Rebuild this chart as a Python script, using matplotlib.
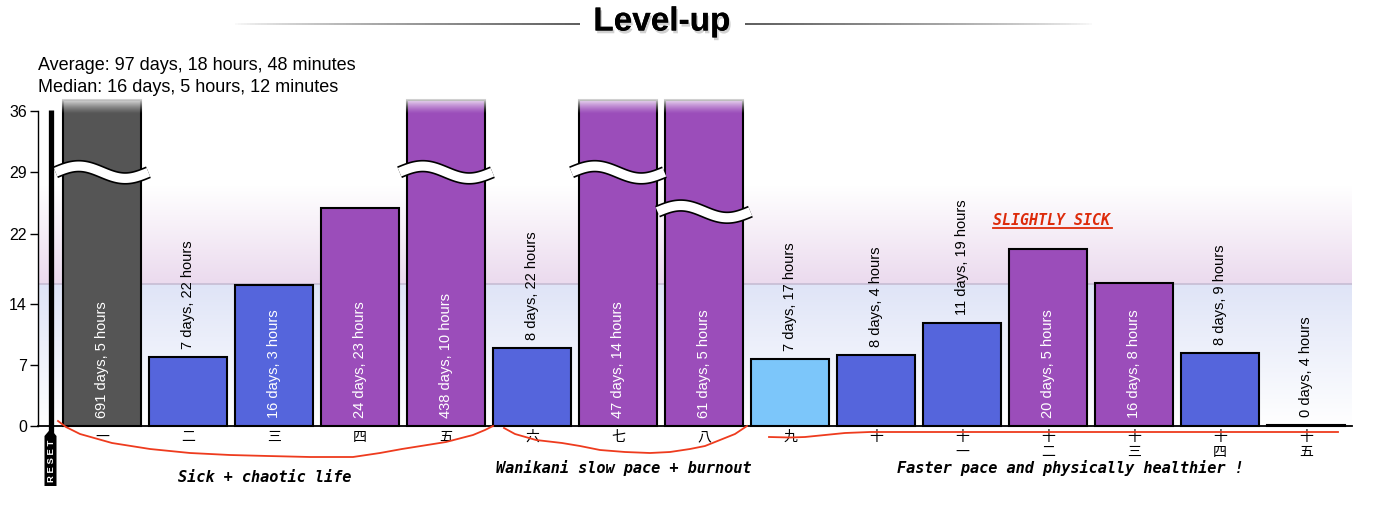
import numpy as np
import matplotlib.pyplot as plt
import matplotlib.patheffects as pe
from matplotlib.lines import Line2D
from matplotlib.patches import Polygon
from matplotlib.collections import LineCollection

plt.rcParams['font.family'] = ['Liberation Sans', 'Noto Sans CJK JP', 'DejaVu Sans']

# level-up durations
levels = ['一', '二', '三', '四', '五', '六', '七', '八', '九', '十',
          '十\n一', '十\n二', '十\n三', '十\n四', '十\n五']
days = [691, 7, 16, 24, 438, 8, 47, 61, 7, 8, 11, 20, 16, 8, 0]
hours = [5, 22, 3, 23, 10, 22, 14, 5, 17, 4, 19, 5, 8, 9, 4]
bar_colors = ['#555555', '#5565dc', '#5565dc', '#9b4dba', '#9b4dba',
              '#5565dc', '#9b4dba', '#9b4dba', '#7cc6fa', '#5565dc',
              '#5565dc', '#9b4dba', '#9b4dba', '#5565dc', '#5565dc']
break_at = {0: 29, 4: 29, 6: 29, 7: 24.5}
y_ticks = [0, 7, 14, 22, 29, 36]

average_text = 'Average: 97 days, 18 hours, 48 minutes'
median_text = 'Median: 16 days, 5 hours, 12 minutes'
median_days = 16 + 5 / 24 + 12 / 1440

phases = ['Sick + chaotic life', 'Wanikani slow pace + burnout',
          'Faster pace and physically healthier !']

W, H = 1380, 512


def fx(px):
    return px / W


def fy(py):
    return 1 - py / H


values = np.array(days) + np.array(hours) / 24
labels = [f'{d} days, {h} hours' for d, h in zip(days, hours)]
x = np.arange(len(values))
ymax = 36
overflow = 37.3

fig = plt.figure(figsize=(W / 100, H / 100), dpi=100)
ax = fig.add_axes([fx(38), fy(426), (1352 - 38) / W, (426 - 111) / H])
xmin, xmax = -0.744, 14.535

# background bands around the median
n = 100
blue = np.zeros((n, 1, 4))
blue[..., :3] = (0.878, 0.898, 0.969)
blue[:, 0, 3] = np.linspace(0, 1, n)
ax.imshow(blue, extent=[xmin, xmax, 0, median_days], origin='lower',
          aspect='auto', zorder=0)
purple = np.zeros((n, 1, 4))
purple[..., :3] = (0.925, 0.855, 0.937)
purple[:, 0, 3] = np.linspace(1, 0, n)
ax.imshow(purple, extent=[xmin, xmax, median_days, 27.5], origin='lower',
          aspect='auto', zorder=0)
ax.axhline(median_days, color='#c6bdd4', lw=1.2, zorder=1)

shown = np.minimum(values, overflow)
bars = ax.bar(x, shown, width=0.9, color=bar_colors, edgecolor='black',
              linewidth=1.5, zorder=2)
for p in bars:
    p.set_clip_on(False)

# fade out the bars that go off the chart
fade = np.ones((60, 1, 4))
fade[:, 0, 3] = np.linspace(0, 1, 60) ** 1.3
for i, v in enumerate(values):
    if v > ymax:
        im = ax.imshow(fade, extent=[i - 0.48, i + 0.48, 35.6, overflow + 0.2],
                       origin='lower', aspect='auto', zorder=3)
        im.set_clip_on(False)

# axis-break waves
u = np.linspace(0, 1, 80)
for i, yb in break_at.items():
    xs = i - 0.54 + 1.08 * u
    ys = yb + 0.7 * np.sin(2 * np.pi * u)
    ax.plot(xs, ys, color='black', lw=9, zorder=4, solid_capstyle='butt')
    ax.plot(xs, ys, color='white', lw=6.6, zorder=5, solid_capstyle='butt')

# bar labels
for i, (v, lab) in enumerate(zip(values, labels)):
    if v > 14:
        ax.text(i, 0.9, lab, rotation=90, ha='center', va='bottom',
                color='white', fontsize=10.5, zorder=6)
    else:
        ax.text(i, v + 0.9, lab, rotation=90, ha='center', va='bottom',
                color='black', fontsize=10.5, zorder=6)

ax.set_xlim(xmin, xmax)
ax.set_ylim(0, ymax)
ax.set_yticks(y_ticks)
ax.set_xticks(x)
ax.set_xticklabels(levels)
for t in ax.get_xticklabels():
    t.set_linespacing(1.05)
ax.tick_params(axis='x', length=0, pad=3, labelsize=10)
ax.tick_params(axis='y', length=6, width=1, labelsize=11.5, pad=2)
ax.spines['top'].set_visible(False)
ax.spines['right'].set_visible(False)
ax.spines['bottom'].set_linewidth(1.3)
ax.spines['left'].set_linewidth(1)

# slightly sick note
ax.text(10.36, 22.97, 'SLIGHTLY SICK', family='DejaVu Sans Mono',
        fontweight='bold', style='italic', fontsize=10.8, color='#dd2a0a',
        ha='left', va='baseline', zorder=6)
ax.plot([10.36, 11.74], [22.63, 22.63], color='#dd2a0a', lw=1.3, zorder=6)

# reset marker
fig.add_artist(Line2D([fx(50.5)] * 2, [fy(110), fy(434)], color='black',
                      lw=3.8, solid_capstyle='butt', transform=fig.transFigure))
tag = [(44.5, 436), (50.5, 429), (56.5, 436), (56.5, 486), (44.5, 486)]
fig.add_artist(Polygon([(fx(a), fy(b)) for a, b in tag], closed=True,
                       facecolor='black', edgecolor='none',
                       transform=fig.transFigure))
fig.text(fx(51), fy(461), 'R E S E T', rotation=90, color='white',
         fontsize=6.8, fontweight='bold', ha='center', va='center')

# title with fading rules
fig.text(fx(662), fy(22), 'Level-up', fontsize=24, fontweight='bold',
         ha='center', va='center',
         path_effects=[pe.withSimplePatchShadow(offset=(1.2, -2),
                                                shadow_rgbFace='#999999',
                                                alpha=0.45),
                       pe.Normal()])
for x0, x1 in [(580, 232), (745, 1095)]:
    xs = np.linspace(x0, x1, 120)
    segs = [[(fx(xs[k]), fy(24)), (fx(xs[k + 1]), fy(24))] for k in range(119)]
    cols = [(0.25, 0.25, 0.25, a) for a in np.linspace(1, 0, 119) ** 0.7]
    fig.add_artist(LineCollection(segs, colors=cols, linewidths=1.2,
                                  transform=fig.transFigure))

fig.text(fx(38), fy(65), average_text, fontsize=13, ha='left', va='center')
fig.text(fx(38), fy(88), median_text, fontsize=13, ha='left', va='center')

# phase annotations
curves = [
    [(58, 421), (66, 427), (80, 434), (112, 443), (150, 449), (190, 453),
     (230, 455), (268, 456), (310, 457), (353, 457), (380, 453), (402, 449),
     (446, 442), (473, 435), (485, 430), (493, 426)],
    [(504, 428), (515, 434), (536, 440), (562, 443), (580, 446), (600, 450),
     (625, 452), (650, 453), (670, 452), (690, 449), (705, 446), (720, 440),
     (735, 434), (747, 426)],
    [(769, 437), (790, 437.5), (805, 437), (825, 435), (845, 433), (870, 432),
     (1338, 432)],
]
for c in curves:
    fig.add_artist(Line2D([fx(a) for a, b in c], [fy(b) for a, b in c],
                          color='#ee3b1e', lw=1.3, transform=fig.transFigure))
for txt, (px, py) in zip(phases, [(265, 477), (624, 468), (1070, 468)]):
    fig.text(fx(px), fy(py), txt, family='DejaVu Sans Mono',
             fontweight='bold', style='italic', fontsize=11,
             ha='center', va='center')

fig.savefig('out.png', dpi=100)
